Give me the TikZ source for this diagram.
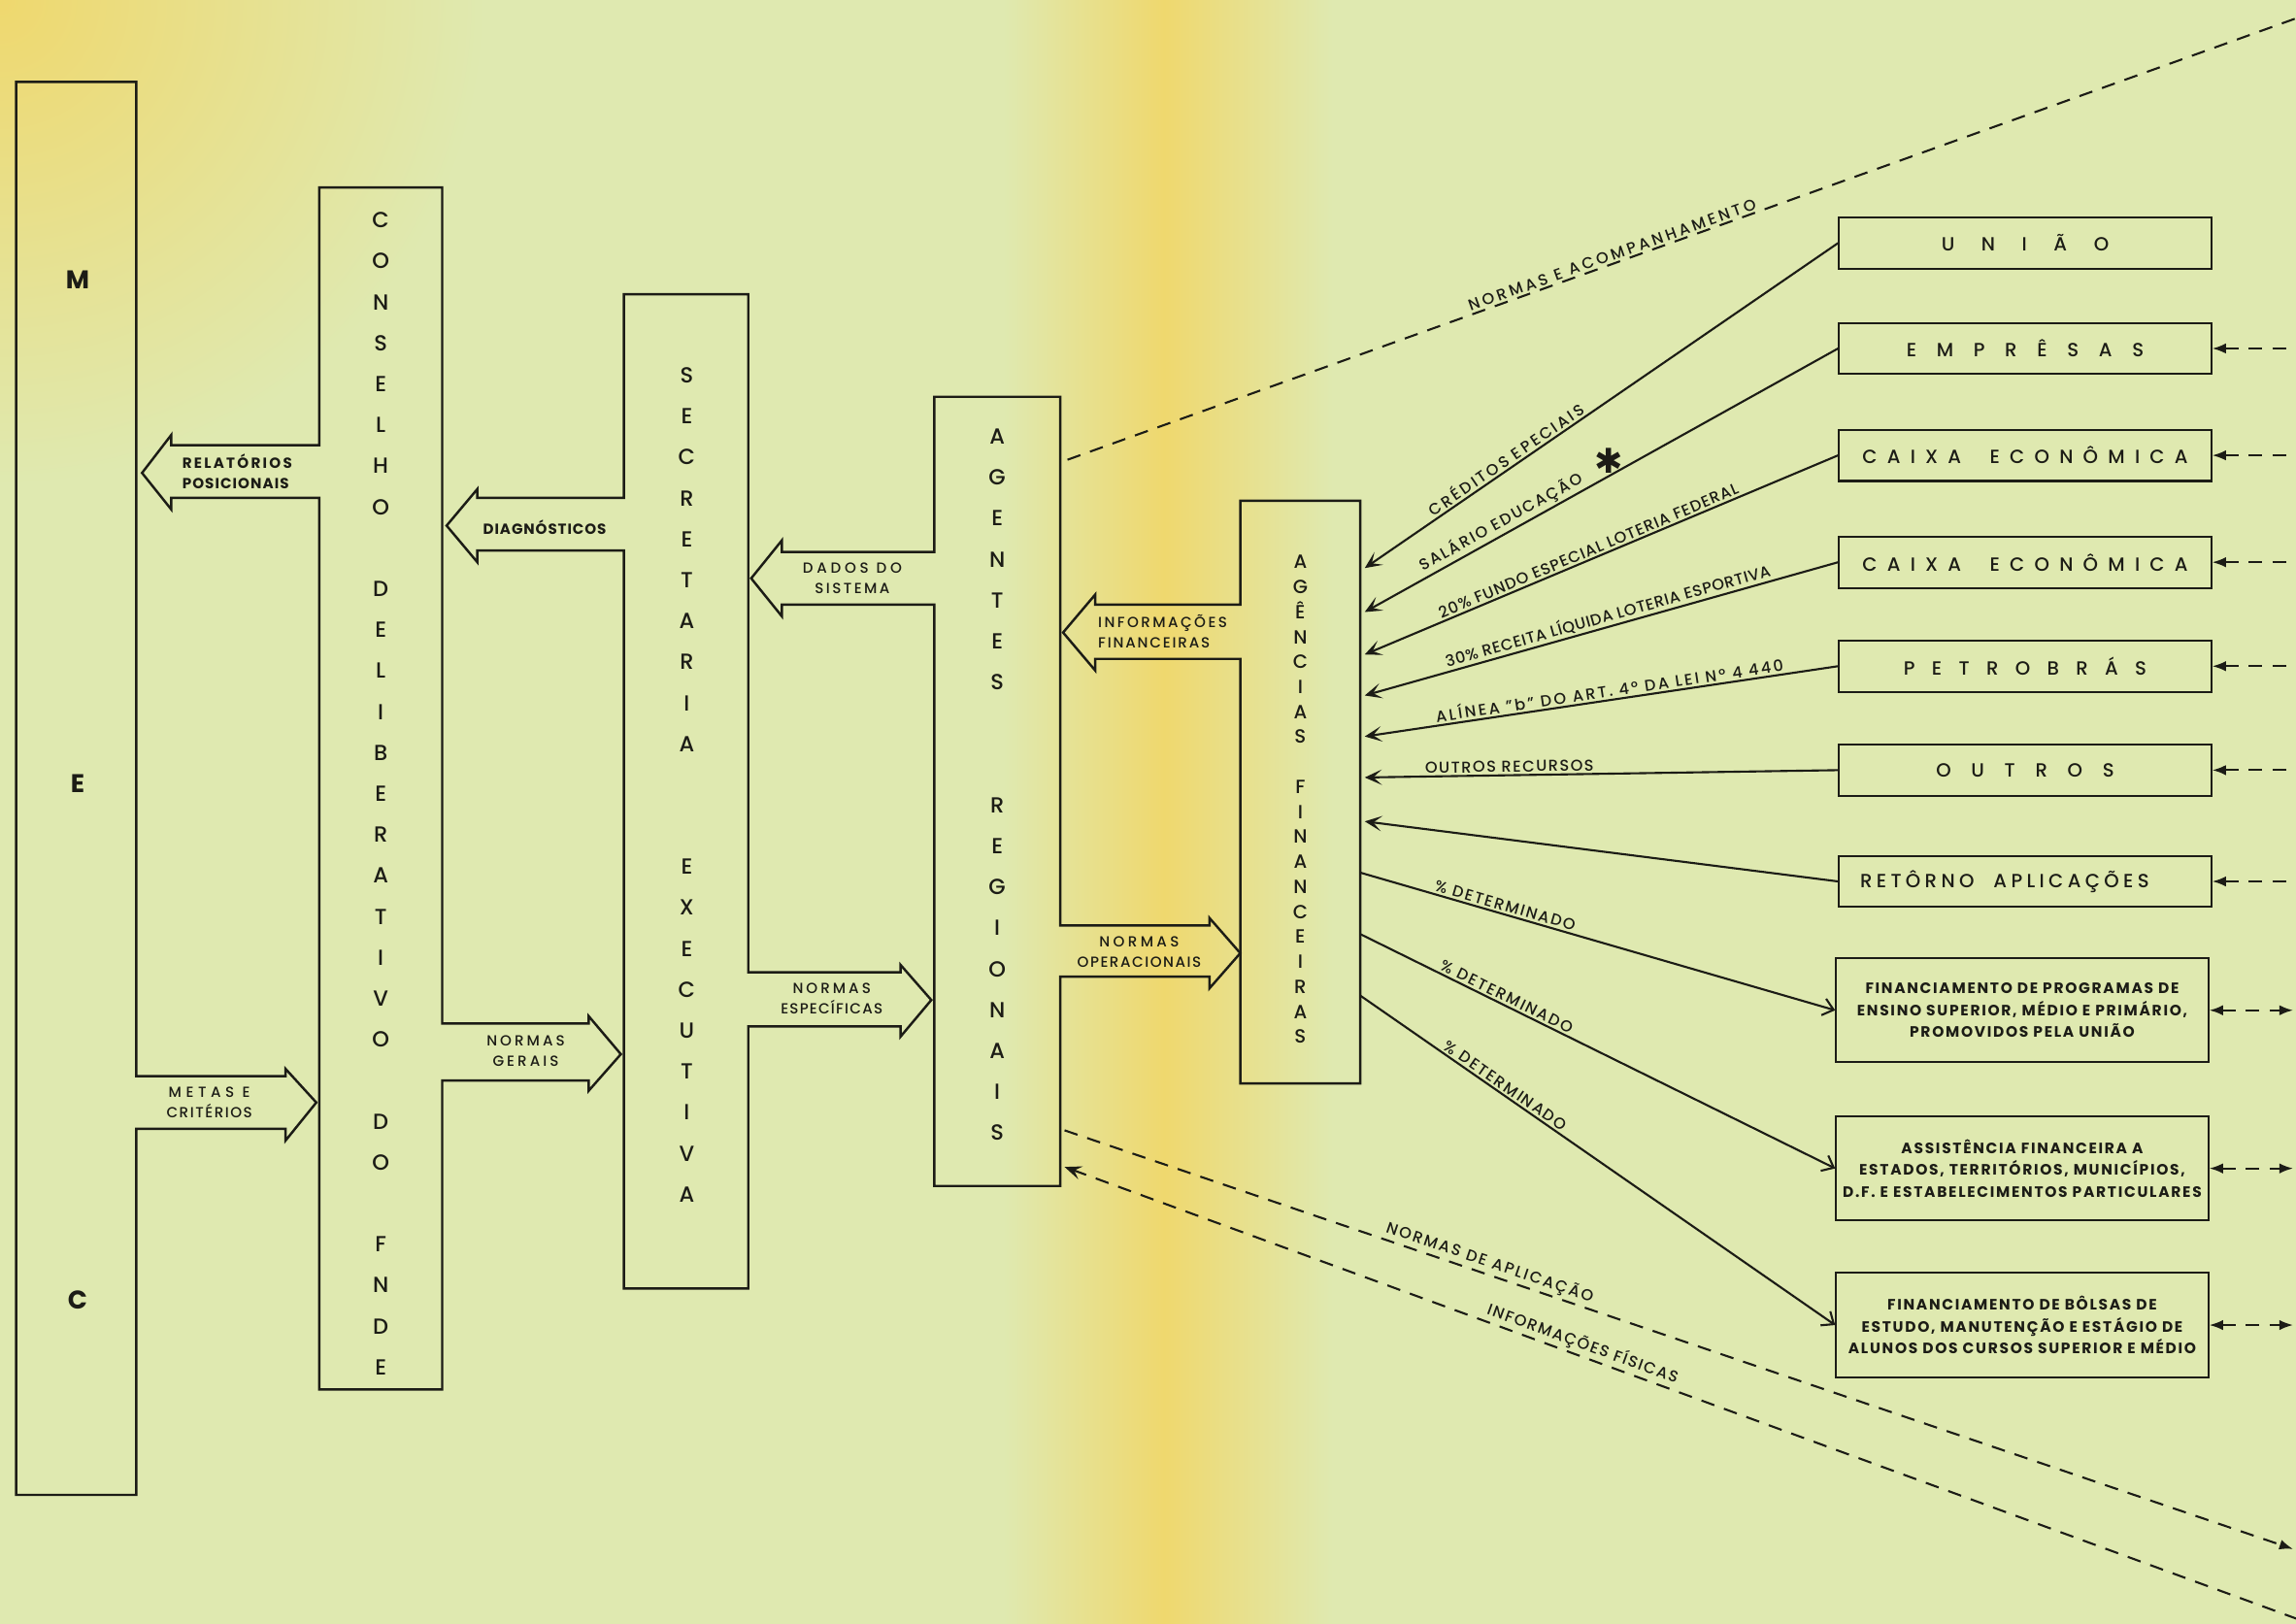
\documentclass[tikz,border=0pt]{standalone}
\usepackage{fontspec}
\setmainfont{Poppins}[UprightFont=* Medium, BoldFont=* Bold]
\newfontfamily\starfont{DejaVu Sans}
\usetikzlibrary{arrows.meta}
\definecolor{paper}{RGB}{223,233,176}
\definecolor{fold}{RGB}{239,216,110}
\definecolor{ink}{RGB}{28,28,22}
\newcommand{\track}[1]{\addfontfeatures{LetterSpace=#1}}
\tikzset{
  >={Stealth[length=4pt,width=3pt]},
  outline/.style={draw=ink, line width=0.7pt, line join=miter},
  block/.style={font={\fontsize{6.4}{12}\selectfont}, align=center, inner sep=0pt, text=ink},
  tag/.style={font={\fontsize{4.3}{6}\selectfont\track{12}}, align=center, inner sep=0pt, text=ink},
  tagb/.style={tag, font={\fontsize{4.3}{6}\selectfont\bfseries\track{12}}},
  srcbox/.style={draw=ink, line width=0.6pt, minimum width=109pt, minimum height=15pt, inner sep=0pt,
    font=\fontsize{5.6}{7}\selectfont, text=ink},
  usebox/.style={draw=ink, line width=0.6pt, minimum width=109pt, minimum height=30.5pt, inner sep=0pt,
    align=center, font={\fontsize{4.4}{6.4}\selectfont\bfseries\track{11}}, text=ink},
  flow/.style={draw=ink, line width=0.6pt},
  feed/.style={flow, {Stealth[length=5pt,width=4.5pt,inset=2.5pt]}-},
  give/.style={flow, -{Straight Barb[length=3pt,width=5pt]}},
  info/.style={draw=ink, line width=0.6pt, dash pattern=on 4pt off 3pt},
  along/.style={sloped, above, inner sep=0.6pt, font={\fontsize{4.6}{6}\selectfont\track{10}}, text=ink},
}

\begin{document}
\begin{tikzpicture}[x=0.015083cm, y=-0.015083cm]

  % paper and the yellow fold
  \useasboundingbox (0,0) rectangle (1568,1109);
  \clip (0,0) rectangle (1568,1109);
  \fill[paper] (0,0) rectangle (1568,1109);
  \shade[inner color=fold, outer color=paper] (0,0) circle [radius=5cm];
  \shade[left color=paper, right color=fold] (685,0) rectangle (795,1109);
  \shade[left color=fold, right color=paper] (795,0) rectangle (910,1109);

  % MEC and the goals arrow
  \draw[outline] (93,735) -- (93,56) -- (11,56) -- (11,1021) -- (93,1021) -- (93,771)
    -- (195,771) -- (195,779) -- (216,753) -- (195,730) -- (195,735) -- cycle;
  % Conselho with reports arrow and general rules arrow
  \draw[outline] (218,304) -- (218,128) -- (302,128) -- (302,699) -- (402,699) -- (402,694)
    -- (424,720) -- (402,745) -- (402,738) -- (302,738) -- (302,949) -- (218,949) -- (218,340)
    -- (117,340) -- (117,348) -- (97,323) -- (117,297) -- (117,304) -- cycle;
  % Secretaria
  \draw[outline] (426,340) -- (426,201) -- (511,201) -- (511,664) -- (615,664) -- (615,659)
    -- (636,683) -- (615,708) -- (615,701) -- (511,701) -- (511,880) -- (426,880) -- (426,376)
    -- (326,376) -- (326,384) -- (305,359) -- (326,334) -- (326,340) -- cycle;
  % Agentes regionais
  \draw[outline] (638,377) -- (638,271) -- (724,271) -- (724,632) -- (826,632) -- (826,627)
    -- (847,651) -- (826,675) -- (826,667) -- (724,667) -- (724,810) -- (638,810) -- (638,413)
    -- (534,413) -- (534,421) -- (513,395) -- (534,369) -- (534,377) -- cycle;
  % Agencias financeiras
  \draw[outline] (847,413) -- (847,342) -- (929,342) -- (929,740) -- (847,740) -- (847,450)
    -- (748,450) -- (748,458) -- (726,432) -- (748,406) -- (748,413) -- cycle;

  % vertical names
  \node[block, font=\fontsize{7.5}{9}\selectfont\bfseries] (mecm) at (53,191) {M};
  \node[block, font=\fontsize{7.5}{9}\selectfont\bfseries] (mece) at (53,535) {E};
  \node[block, font=\fontsize{7.5}{9}\selectfont\bfseries] (mecc) at (53,888) {C};
  \node[block] (cons) at (260,542) {C\\O\\N\\S\\E\\L\\H\\O\\[12pt]D\\E\\L\\I\\B\\E\\R\\A\\T\\I\\V\\O\\[12pt]D\\O\\[12pt]F\\N\\D\\E};
  \node[block] (secr) at (469,536) {S\\E\\C\\R\\E\\T\\A\\R\\I\\A\\[24pt]E\\X\\E\\C\\U\\T\\I\\V\\A};
  \node[block] (agen) at (681,536) {A\\G\\E\\N\\T\\E\\S\\[24pt]R\\E\\G\\I\\O\\N\\A\\I\\S};
  \node[block, font=\fontsize{5.6}{7.32}\selectfont] (agfin) at (888,546) {A\\G\\Ê\\N\\C\\I\\A\\S\\[7.32pt]F\\I\\N\\A\\N\\C\\E\\I\\R\\A\\S};

  % labels in the wide arrows
  \node[tagb, align=left] (relat) at (162,322) {{\track{15}RELATÓRIOS}\\{\track{7}POSICIONAIS}};
  \node[tag] (metas) at (143,753) {{\track{30}METAS E}\\{\track{10}CRITÉRIOS}};
  \node[tagb] (diag) at (372,360) {{\track{6}DIAGNÓSTICOS}};
  \node[tag] (gerais) at (359,718) {{\track{20}NORMAS}\\{\track{20}GERAIS}};
  \node[tag] (dados) at (582,395) {{\track{25}DADOS DO}\\{\track{16}SISTEMA}};
  \node[tag] (espec) at (568,682) {{\track{20}NORMAS}\\{\track{8}ESPECÍFICAS}};
  \node[tag, align=left] (infofin) at (794,431) {{\track{16}INFORMAÇÕES}\\{\track{12}FINANCEIRAS}};
  \node[tag] (operac) at (778,650) {{\track{22}NORMAS}\\{\track{10}OPERACIONAIS}};

  % sources and uses
  \node[srcbox] (uniao) at (1383,166) {\track{140}UNIÃO};
  \node[srcbox] (empresas) at (1383,238) {\track{105}EMPRÊSAS};
  \node[srcbox] (caixa1) at (1383,311) {\track{52}CAIXA\hspace{4pt} ECONÔMICA};
  \node[srcbox] (caixa2) at (1383,384) {\track{52}CAIXA\hspace{4pt} ECONÔMICA};
  \node[srcbox] (petrobras) at (1383,455) {\track{88}PETROBRÁS};
  \node[srcbox] (outros) at (1383,526) {\track{105}OUTROS};
  \node[srcbox] (retorno) at (1383,602) {\hspace{-12pt}\track{22}RETÔRNO\hspace{3pt} APLICAÇÕES};
  \node[usebox] (finprog) at (1381,690) {FINANCIAMENTO DE PROGRAMAS DE\\ENSINO SUPERIOR, MÉDIO E PRIMÁRIO,\\PROMOVIDOS PELA UNIÃO};
  \node[usebox] (assist) at (1381,798) {ASSISTÊNCIA FINANCEIRA A\\ESTADOS, TERRITÓRIOS, MUNICÍPIOS,\\D.F. E ESTABELECIMENTOS PARTICULARES};
  \node[usebox] (bolsas) at (1381,905) {FINANCIAMENTO DE BÔLSAS DE\\ESTUDO, MANUTENÇÃO E ESTÁGIO DE\\ALUNOS DOS CURSOS SUPERIOR E MÉDIO};

  % points on the agencias edge and beyond the sheet
  \foreach \n/\yy in {1/388,2/418,3/447,4/475,5/503,6/531,7/561}
    \coordinate (in\n) at (932,\yy);
  \foreach \n/\yy in {1/596,2/638,3/680}
    \coordinate (out\n) at (929,\yy);
  \coordinate (rim) at (1575,0);
  \coordinate (rimtip) at (1566,0);
  \coordinate (agtop) at (729,314);
  \coordinate (far1) at (1575,10);
  \coordinate (agnorm) at (727,772);
  \coordinate (far2) at (1566,1058);
  \coordinate (aginfo) at (727,797);
  \coordinate (far3) at (1575,1108);

  % resources into the agencias
  \draw[feed] (in1) -- node[along, pos=0.31] {\track{16}CRÉDITOS EPECIAIS} (uniao.west);
  \draw[feed] (in2) -- node[along, pos=0.3] {\track{12}SALÁRIO EDUCAÇÃO} (empresas.west);
  \node[font=\starfont\fontsize{10}{10}\selectfont, inner sep=0pt, text=ink] (star) at (1099,315) {✱};
  \draw[feed] (in3) -- node[along, pos=0.48] {\track{6}20\% FUNDO ESPECIAL LOTERIA FEDERAL} (caixa1.west);
  \draw[feed] (in4) -- node[along, pos=0.52] {\track{4}30\% RECEITA LÍQUIDA LOTERIA ESPORTIVA} (caixa2.west);
  \draw[feed] (in5) -- node[along, pos=0.52] {\track{15}ALÍNEA "b" DO ART. 4º DA LEI Nº 4 440} (petrobras.west);
  \draw[feed] (in6) -- node[along, pos=0.306] {\track{9}OUTROS RECURSOS} (outros.west);
  \draw[feed] (in7) -- (retorno.west);

  % applications
  \draw[give] (out1) -- node[along, pos=0.3] {\track{11}\% DETERMINADO} (finprog.west);
  \draw[give] (out2) -- node[along, pos=0.3] {\track{11}\% DETERMINADO} (assist.west);
  \draw[give] (out3) -- node[along, pos=0.295] {\track{11}\% DETERMINADO} (bolsas.west);

  % dashed links at the sheet edge
  \foreach \b in {empresas,caixa1,caixa2,petrobras,outros,retorno}
    \draw[info, {Latex[length=4pt,width=3pt]}-] (\b.east) -- (\b.east -| rim);
  \foreach \b in {finprog,assist,bolsas}
    \draw[info, {Latex[length=4pt,width=3pt]}-{Latex[length=4pt,width=3pt]}] (\b.east) -- (\b.east -| rimtip);

  % dashed links from the agentes
  \draw[info] (agtop) -- node[along, pos=0.442] {\track{20}NORMAS E ACOMPANHAMENTO} (far1);
  \draw[info, -{Latex[length=4pt,width=3pt]}] (agnorm) -- node[along, pos=0.343] {\track{13}NORMAS DE APLICAÇÃO} (far2);
  \draw[info, {Stealth[length=5pt,width=4pt,inset=2pt]}-] (aginfo) -- node[along, pos=0.414] {\track{10}INFORMAÇÕES FÍSICAS} (far3);

\end{tikzpicture}
\end{document}
